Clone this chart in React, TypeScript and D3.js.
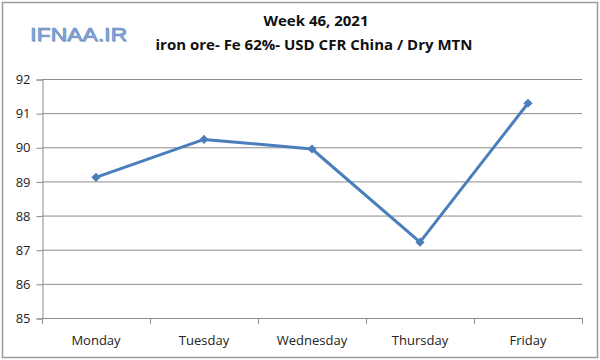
import React, { useRef, useEffect } from 'react';
import * as d3 from 'd3';

const days = ['Monday', 'Tuesday', 'Wednesday', 'Thursday', 'Friday'];
const prices = [89.12, 90.23, 89.95, 87.22, 91.29];
const yTicks = [85, 86, 87, 88, 89, 90, 91, 92];

const App = () => {
  const chartRef = useRef<SVGSVGElement>(null);

  useEffect(() => {
    const width = 600;
    const height = 360;
    const margin = { top: 79, right: 18, bottom: 42, left: 42 };
    const font = 'Open Sans, Noto Sans, sans-serif';

    const svg = d3.select(chartRef.current);
    svg.selectAll('*').remove();

    svg.append('rect')
      .attr('x', 0).attr('y', 0)
      .attr('width', width).attr('height', height)
      .attr('fill', '#fff');

    //frame
    svg.append('rect')
      .attr('x', 2.5).attr('y', 2.5)
      .attr('width', width - 5).attr('height', height - 5)
      .attr('fill', 'none')
      .attr('stroke', '#9a9a9a')
      .attr('stroke-width', 1.5);

    const x = d3.scaleBand()
      .domain(days)
      .range([margin.left, width - margin.right]);

    const y = d3.scaleLinear()
      .domain([85, 92])
      .range([height - margin.bottom, margin.top]);

    //grid lines
    svg.append('g')
      .selectAll('line')
      .data(yTicks.slice(1))
      .join('line')
      .attr('x1', margin.left)
      .attr('x2', width - margin.right)
      .attr('y1', d => y(d) + 0.5)
      .attr('y2', d => y(d) + 0.5)
      .attr('stroke', '#8c8c8c')
      .attr('stroke-width', 1);

    //y axis
    const yAxis = svg.append('g')
      .attr('transform', `translate(${margin.left + 0.5},0.5)`)
      .call(d3.axisLeft(y).tickValues(yTicks).tickSize(6).tickPadding(6).tickFormat(d3.format('d')));
    yAxis.select('.domain').attr('stroke', '#8c8c8c');
    yAxis.selectAll('.tick line').attr('stroke', '#8c8c8c');
    yAxis.selectAll('text')
      .style('font-family', font)
      .style('font-size', '13px')
      .attr('fill', '#222');

    //x axis
    const boundaries = days.map(d => x(d) as number).concat([width - margin.right]);
    const xg = svg.append('g');
    xg.append('line')
      .attr('x1', margin.left).attr('x2', width - margin.right)
      .attr('y1', y(85) + 0.5).attr('y2', y(85) + 0.5)
      .attr('stroke', '#8c8c8c');
    xg.selectAll('line.tk')
      .data(boundaries)
      .join('line')
      .attr('class', 'tk')
      .attr('x1', d => d + 0.5).attr('x2', d => d + 0.5)
      .attr('y1', y(85)).attr('y2', y(85) + 6)
      .attr('stroke', '#8c8c8c');
    xg.selectAll('text')
      .data(days)
      .join('text')
      .attr('x', d => (x(d) as number) + x.bandwidth() / 2)
      .attr('y', y(85) + 27)
      .attr('text-anchor', 'middle')
      .style('font-family', font)
      .style('font-size', '13px')
      .attr('fill', '#222')
      .text(d => d);

    //line
    const line = d3.line<number>()
      .x((_, i) => (x(days[i]) as number) + x.bandwidth() / 2)
      .y(d => y(d));

    svg.append('path')
      .datum(prices)
      .attr('d', line)
      .attr('fill', 'none')
      .attr('stroke', '#4a7ebb')
      .attr('stroke-width', 3)
      .attr('stroke-linejoin', 'round');

    //diamond markers (rotated squares)
    svg.selectAll('path.marker')
      .data(prices)
      .join('path')
      .attr('class', 'marker')
      .attr('d', d3.symbol(d3.symbolSquare, 42))
      .attr('transform', (d, i) => `translate(${(x(days[i]) as number) + x.bandwidth() / 2},${y(d)}) rotate(45)`)
      .attr('fill', '#4a7ebb');

    //titles
    svg.append('text')
      .attr('x', 316).attr('y', 26)
      .attr('text-anchor', 'middle')
      .style('font-family', font)
      .style('font-size', '15px')
      .style('font-weight', 'bold')
      .attr('fill', '#111')
      .text('Week 46, 2021');

    svg.append('text')
      .attr('x', 314).attr('y', 50)
      .attr('text-anchor', 'middle')
      .style('font-family', font)
      .style('font-size', '15px')
      .style('font-weight', 'bold')
      .attr('fill', '#111')
      .text('iron ore- Fe 62%- USD CFR China / Dry MTN');

    //watermark
    svg.append('text')
      .attr('x', 31).attr('y', 42)
      .attr('textLength', 97)
      .attr('lengthAdjust', 'spacingAndGlyphs')
      .style('font-family', 'Liberation Sans, sans-serif')
      .style('font-size', '18px')
      .attr('fill', '#b8b8b8')
      .text('IFNAA.IR');
    svg.append('text')
      .attr('x', 30).attr('y', 41)
      .attr('textLength', 97)
      .attr('lengthAdjust', 'spacingAndGlyphs')
      .style('font-family', 'Liberation Sans, sans-serif')
      .style('font-size', '18px')
      .attr('fill', '#86a9dc')
      .attr('stroke', '#5f88c6')
      .attr('stroke-width', 0.5)
      .text('IFNAA.IR');
  }, []);

  return (
    <svg
      ref={chartRef}
      width={600}
      height={360}
      style={{ position: 'absolute', left: 0, top: 0, display: 'block' }}
    ></svg>
  );
};

export default App;
